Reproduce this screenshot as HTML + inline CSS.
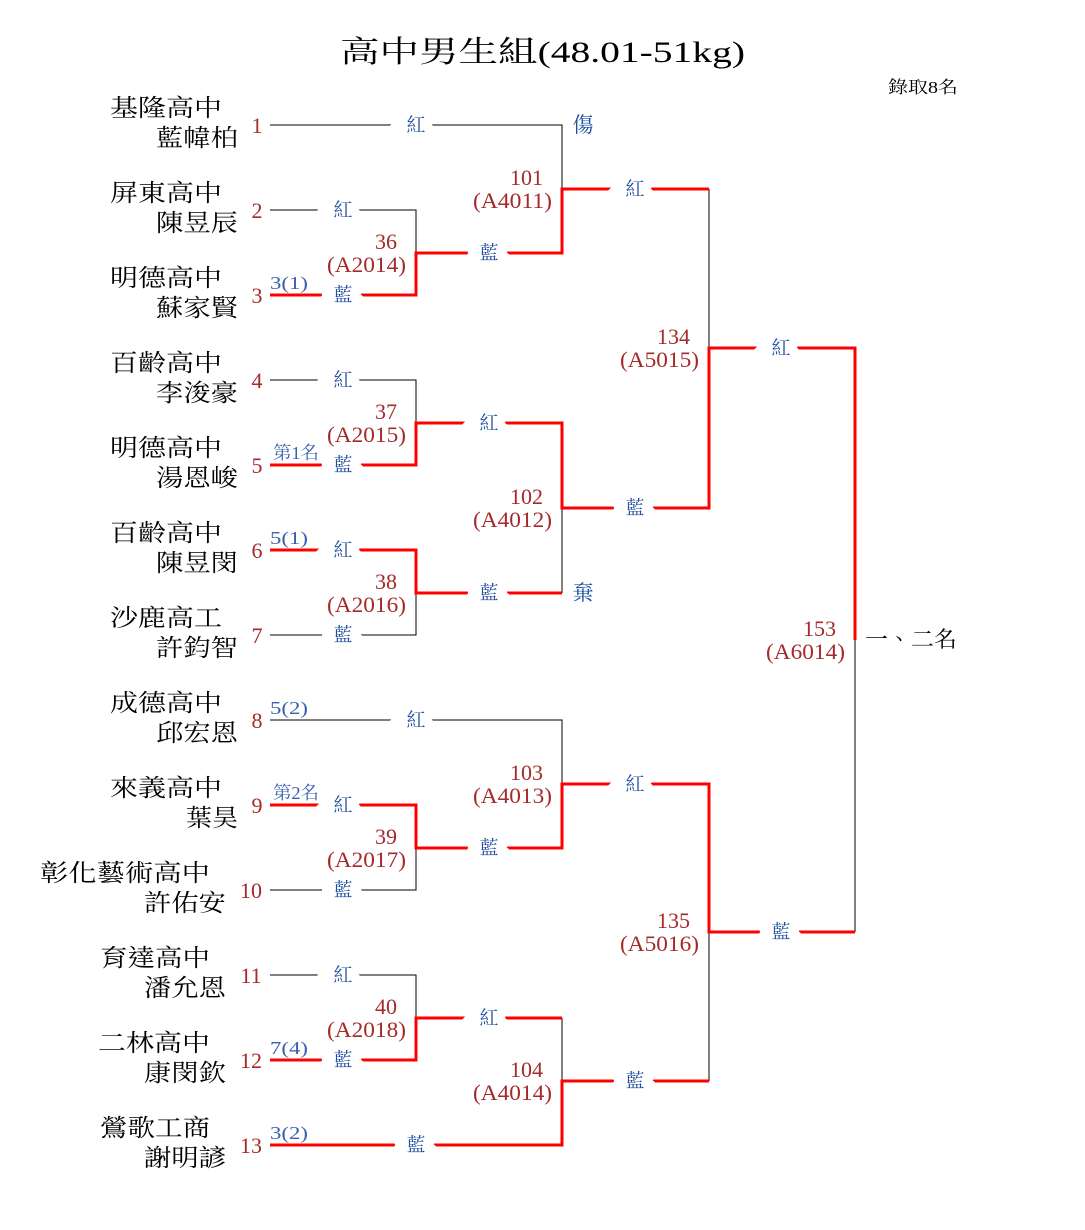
<!DOCTYPE html>
<html><head><meta charset="utf-8"><style>
html,body{margin:0;padding:0;background:#fff;}
svg{display:block;font-family:"Liberation Serif","Noto Serif CJK TC","Noto Serif CJK SC",serif;}
.k{stroke:#000;stroke-width:1;fill:none}
.r{stroke:#f00;stroke-width:3;fill:none}
.lb{fill:#1f4ea0;font-size:19px;text-anchor:middle;stroke:#fff;stroke-width:20px;paint-order:stroke;}
.sl{fill:#1f4ea0;font-size:21px;text-anchor:middle}
.sd{fill:#a52a2a;font-size:22px;text-anchor:middle}
.mn{fill:#a52a2a;font-size:22px;text-anchor:end}
.nt{fill:#3a5fb0;font-size:18px}
.nm{fill:#000;font-size:24px}
</style></head><body>
<svg width="1085" height="1230" viewBox="0 0 1085 1230" xmlns="http://www.w3.org/2000/svg">
<text x="340" y="62" font-size="30" textLength="405" lengthAdjust="spacingAndGlyphs">高中男生組(48.01-51kg)</text>
<text x="888" y="93" font-size="17" textLength="70" lengthAdjust="spacingAndGlyphs">錄取8名</text>

<path class="k" d="M270 125H562V189 M270 210H416V253 M270 380H416V423 M270 635H416V593 M562 508V593 M709 189V348 M270 720H562V784 M270 890H416V848 M270 975H416V1018 M562 1018V1081 M709 932V1081 M855 640V932"/>
<path class="r" d="M270 295H416V253H562V189H709"/>
<path class="r" d="M270 465H416V423H562V508H709V348H855V640"/>
<path class="r" d="M270 550H416V593H562"/>
<path class="r" d="M270 805H416V848H562V784H709V932H855"/>
<path class="r" d="M270 1060H416V1018H562"/>
<path class="r" d="M270 1145H562V1081H709"/>

<g class="lb">
<text x="416" y="131">紅</text>
<text x="343" y="216">紅</text>
<text x="343" y="301">藍</text>
<text x="489" y="259">藍</text>
<text x="635" y="195">紅</text>
<text x="343" y="386">紅</text>
<text x="343" y="471">藍</text>
<text x="489" y="429">紅</text>
<text x="343" y="556">紅</text>
<text x="343" y="641">藍</text>
<text x="489" y="599">藍</text>
<text x="635" y="514">藍</text>
<text x="781" y="354">紅</text>
<text x="416" y="726">紅</text>
<text x="343" y="811">紅</text>
<text x="343" y="896">藍</text>
<text x="489" y="854">藍</text>
<text x="635" y="790">紅</text>
<text x="343" y="981">紅</text>
<text x="343" y="1066">藍</text>
<text x="489" y="1024">紅</text>
<text x="416" y="1151">藍</text>
<text x="635" y="1087">藍</text>
<text x="781" y="938">藍</text>
</g>
<text class="sl" x="583" y="132">傷</text>
<text class="sl" x="583" y="600">棄</text>

<g class="mn">
<text x="397" y="249">36</text><text x="406" y="272" textLength="79" lengthAdjust="spacingAndGlyphs">(A2014)</text>
<text x="397" y="419">37</text><text x="406" y="442" textLength="79" lengthAdjust="spacingAndGlyphs">(A2015)</text>
<text x="397" y="589">38</text><text x="406" y="612" textLength="79" lengthAdjust="spacingAndGlyphs">(A2016)</text>
<text x="397" y="844">39</text><text x="406" y="867" textLength="79" lengthAdjust="spacingAndGlyphs">(A2017)</text>
<text x="397" y="1014">40</text><text x="406" y="1037" textLength="79" lengthAdjust="spacingAndGlyphs">(A2018)</text>
<text x="543" y="185">101</text><text x="552" y="208" textLength="79" lengthAdjust="spacingAndGlyphs">(A4011)</text>
<text x="543" y="504">102</text><text x="552" y="527" textLength="79" lengthAdjust="spacingAndGlyphs">(A4012)</text>
<text x="543" y="780">103</text><text x="552" y="803" textLength="79" lengthAdjust="spacingAndGlyphs">(A4013)</text>
<text x="543" y="1077">104</text><text x="552" y="1100" textLength="79" lengthAdjust="spacingAndGlyphs">(A4014)</text>
<text x="690" y="344">134</text><text x="699" y="367" textLength="79" lengthAdjust="spacingAndGlyphs">(A5015)</text>
<text x="690" y="928">135</text><text x="699" y="951" textLength="79" lengthAdjust="spacingAndGlyphs">(A5016)</text>
<text x="836" y="636">153</text><text x="845" y="659" textLength="79" lengthAdjust="spacingAndGlyphs">(A6014)</text>
</g>
<text x="865" y="647" font-size="22" textLength="92" lengthAdjust="spacingAndGlyphs">一、二名</text>

<g class="nt">
<text x="270" y="289" textLength="38" lengthAdjust="spacingAndGlyphs">3(1)</text>
<text x="273" y="459" textLength="46" lengthAdjust="spacingAndGlyphs">第1名</text>
<text x="270" y="544" textLength="38" lengthAdjust="spacingAndGlyphs">5(1)</text>
<text x="270" y="714" textLength="38" lengthAdjust="spacingAndGlyphs">5(2)</text>
<text x="273" y="799" textLength="46" lengthAdjust="spacingAndGlyphs">第2名</text>
<text x="270" y="1054" textLength="38" lengthAdjust="spacingAndGlyphs">7(4)</text>
<text x="270" y="1139" textLength="38" lengthAdjust="spacingAndGlyphs">3(2)</text>
</g>

<g class="sd">
<text x="257" y="133">1</text><text x="257" y="218">2</text><text x="257" y="303">3</text>
<text x="257" y="388">4</text><text x="257" y="473">5</text><text x="257" y="558">6</text>
<text x="257" y="643">7</text><text x="257" y="728">8</text><text x="257" y="813">9</text>
<text x="251" y="898">10</text><text x="251" y="983">11</text><text x="251" y="1068">12</text>
<text x="251" y="1153">13</text>
</g>

<g class="nm">
<text x="110" y="116" textLength="112" lengthAdjust="spacingAndGlyphs">基隆高中</text>
<text x="156" y="146" textLength="82" lengthAdjust="spacingAndGlyphs">藍幃柏</text>
<text x="110" y="201" textLength="112" lengthAdjust="spacingAndGlyphs">屏東高中</text>
<text x="156" y="231" textLength="82" lengthAdjust="spacingAndGlyphs">陳昱辰</text>
<text x="110" y="286" textLength="112" lengthAdjust="spacingAndGlyphs">明德高中</text>
<text x="156" y="316" textLength="82" lengthAdjust="spacingAndGlyphs">蘇家賢</text>
<text x="110" y="371" textLength="112" lengthAdjust="spacingAndGlyphs">百齡高中</text>
<text x="156" y="401" textLength="82" lengthAdjust="spacingAndGlyphs">李浚豪</text>
<text x="110" y="456" textLength="112" lengthAdjust="spacingAndGlyphs">明德高中</text>
<text x="156" y="486" textLength="82" lengthAdjust="spacingAndGlyphs">湯恩峻</text>
<text x="110" y="541" textLength="112" lengthAdjust="spacingAndGlyphs">百齡高中</text>
<text x="156" y="571" textLength="82" lengthAdjust="spacingAndGlyphs">陳昱閔</text>
<text x="110" y="626" textLength="112" lengthAdjust="spacingAndGlyphs">沙鹿高工</text>
<text x="156" y="656" textLength="82" lengthAdjust="spacingAndGlyphs">許鈞智</text>
<text x="110" y="711" textLength="112" lengthAdjust="spacingAndGlyphs">成德高中</text>
<text x="156" y="741" textLength="82" lengthAdjust="spacingAndGlyphs">邱宏恩</text>
<text x="110" y="796" textLength="112" lengthAdjust="spacingAndGlyphs">來義高中</text>
<text x="186" y="826" textLength="52" lengthAdjust="spacingAndGlyphs">葉昊</text>
<text x="40" y="881" textLength="170" lengthAdjust="spacingAndGlyphs">彰化藝術高中</text>
<text x="144" y="911" textLength="82" lengthAdjust="spacingAndGlyphs">許佑安</text>
<text x="100" y="966" textLength="110" lengthAdjust="spacingAndGlyphs">育達高中</text>
<text x="144" y="996" textLength="82" lengthAdjust="spacingAndGlyphs">潘允恩</text>
<text x="98" y="1051" textLength="112" lengthAdjust="spacingAndGlyphs">二林高中</text>
<text x="144" y="1081" textLength="82" lengthAdjust="spacingAndGlyphs">康閔欽</text>
<text x="100" y="1136" textLength="110" lengthAdjust="spacingAndGlyphs">鶯歌工商</text>
<text x="144" y="1166" textLength="82" lengthAdjust="spacingAndGlyphs">謝明諺</text>
</g>
</svg>
</body></html>
